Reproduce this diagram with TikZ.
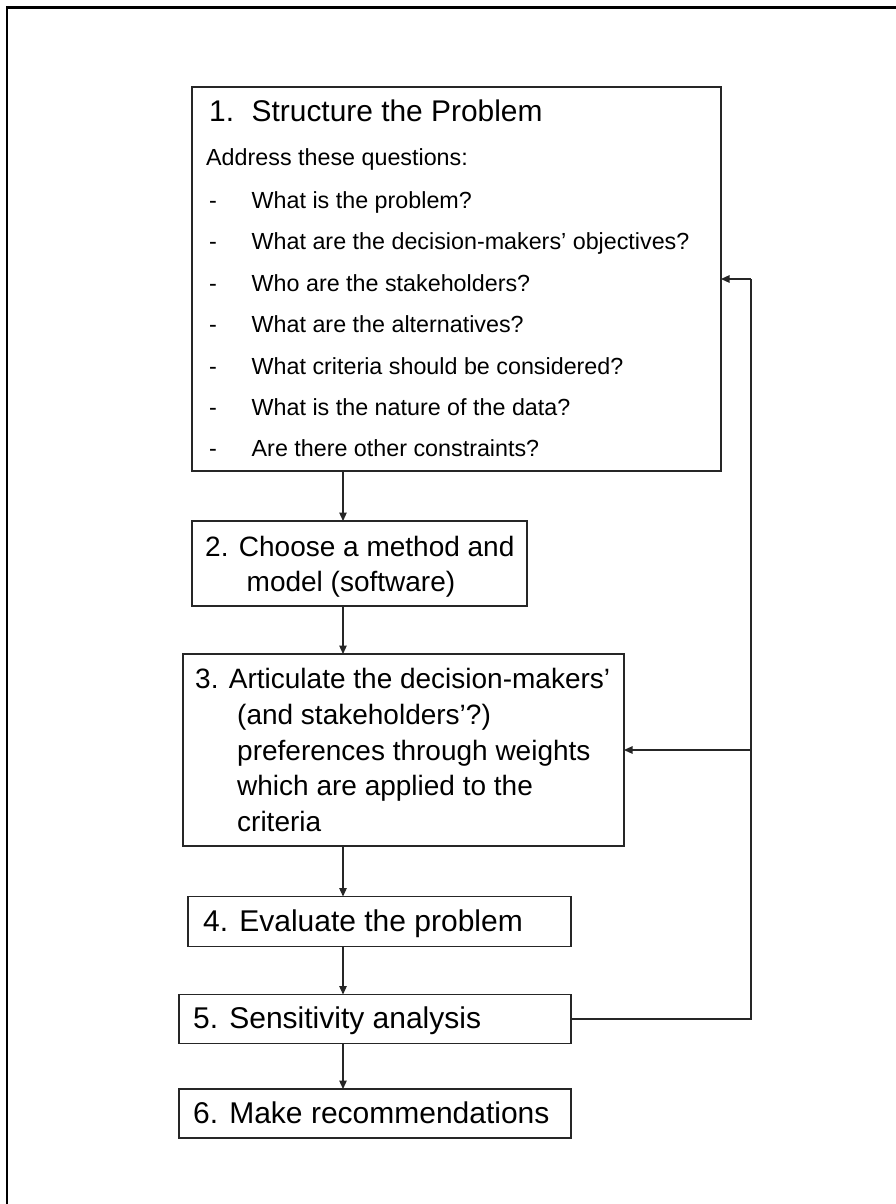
\documentclass[tikz,border=0pt]{standalone}
\usepackage{fontspec}
\setmainfont{Liberation Sans}
\usetikzlibrary{arrows.meta}

\begin{document}
\begin{tikzpicture}[x=1pt,y=-1pt,
  stagebox/.style={draw=black!85, line width=1.2pt, rectangle, inner sep=0pt, outer sep=0pt},
  flow/.style={draw=black!85, line width=1.2pt, -{Triangle[length=8.5pt,width=7.5pt]}},
  loopline/.style={draw=black!85, line width=1.2pt},
  frameline/.style={draw=black, line width=2.6pt},
  lbl/.style={anchor=base west, inner sep=0pt, font=\fontsize{28}{32}\selectfont},
  lblbig/.style={anchor=base west, inner sep=0pt, font=\fontsize{30}{34}\selectfont},
  ttl/.style={anchor=base west, inner sep=0pt, font=\fontsize{29.9}{34}\selectfont},
  qtxt/.style={anchor=base west, inner sep=0pt, font=\fontsize{23.3}{27}\selectfont}
]
\useasboundingbox (0,0) rectangle (896,1204);
\fill[white] (0,0) rectangle (896,1204);

% page frame: top and left rules only
\coordinate (fTL) at (7,7.5);
\coordinate (fTR) at (896,7.5);
\coordinate (fBL) at (7,1204);
\draw[frameline] (fTR) -- (fTL) -- (fBL);

% stage boxes (corner to corner)
\node[stagebox, minimum width=529pt, minimum height=384pt, anchor=north west] (b1) at (192,87) {};
\node[stagebox, minimum width=335pt, minimum height=85pt, anchor=north west] (b2) at (192,521) {};
\node[stagebox, minimum width=441pt, minimum height=192pt, anchor=north west] (b3) at (183,654) {};
\node[stagebox, minimum width=383pt, minimum height=50pt, anchor=north west] (b4) at (188,896.5) {};
\node[stagebox, minimum width=392pt, minimum height=49pt, anchor=north west] (b5) at (179,994.5) {};
\node[stagebox, minimum width=392pt, minimum height=49pt, anchor=north west] (b6) at (179,1089) {};

% box 1 text
\node[ttl] (t1a) at (209,122) {1.};
\node[ttl] (t1b) at (251.5,122) {Structure the Problem};
\node[qtxt] (q0) at (206,165) {Address these questions:};
\foreach \y/\q [count=\i] in {
  208.3/{What is the problem?},
  249.8/{What are the decision-makers’ objectives?},
  291.2/{Who are the stakeholders?},
  332.6/{What are the alternatives?},
  374/{What criteria should be considered?},
  415.4/{What is the nature of the data?},
  456.8/{Are there other constraints?}} {
  \node[qtxt] (d\i) at (209,\y) {-};
  \node[qtxt] (q\i) at (251.5,\y) {\q};
}

% box 2 text
\node[lbl] (t2a) at (205,556) {2. Choose a method and};
\node[lbl] (t2b) at (246.5,591.5) {model (software)};

% box 3 text
\node[lbl] (t3a) at (195,688.5) {3. Articulate the decision-makers’};
\node[lbl] (t3b) at (237,724) {(and stakeholders’?)};
\node[lbl] (t3c) at (237,760) {preferences through weights};
\node[lbl] (t3d) at (237,795.5) {which are applied to the};
\node[lbl] (t3e) at (237,831) {criteria};

% boxes 4-6 text
\node[lblbig] (t4) at (203,931.5) {4. Evaluate the problem};
\node[lblbig] (t5) at (193,1028.5) {5. Sensitivity analysis};
\node[lblbig] (t6) at (193,1123.5) {6. Make recommendations};

% main flow
\coordinate (spine) at (343,0);
\draw[flow] (b1.south -| spine) -- (b2.north -| spine);
\draw[flow] (b2.south -| spine) -- (b3.north -| spine);
\draw[flow] (b3.south -| spine) -- (b4.north -| spine);
\draw[flow] (b4.south -| spine) -- (b5.north -| spine);
\draw[flow] (b5.south -| spine) -- (b6.north -| spine);

% feedback loop from sensitivity analysis
\coordinate (loop) at (751,0);
\draw[loopline] (b5.east) -- (b5.east -| loop) -- (b1.east -| loop);
\draw[flow] (b1.east -| loop) -- (b1.east);
\draw[flow] (b3.east -| loop) -- (b3.east);
\end{tikzpicture}
\end{document}
